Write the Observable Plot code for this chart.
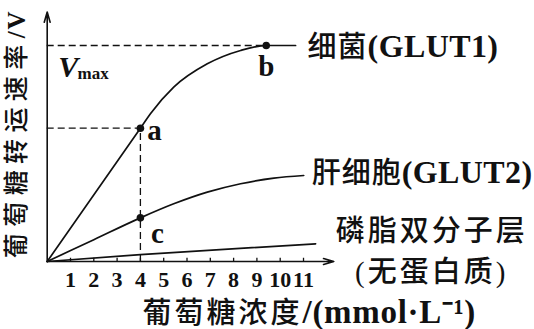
<!DOCTYPE html>
<html><head><meta charset="utf-8">
<script src="https://cdn.jsdelivr.net/npm/d3@7"></script>
<script src="https://cdn.jsdelivr.net/npm/@observablehq/plot@0.6"></script>
<style>
body{margin:0;background:#fff;}
</style></head><body><div id="chart"></div>
<script>
const glut1X = [0, 4, 4.43, 5.43, 6.87, 8.30, 9.40, 10.66];
const glut1Y = [0, 6.17, 6.84, 8.07, 9.15, 9.77, 10, 10];
const glut2X = [0, 2, 4, 5.43, 6.87, 8.30, 9.73, 11.01];
const glut2Y = [0, 1.01, 2.02, 2.67, 3.21, 3.60, 3.86, 3.98];
const lipidX = [0, 4, 11.52];
const lipidY = [0, 0.32, 0.82];
const seriesNames = ["细菌(GLUT1)", "肝细胞(GLUT2)", "磷脂双分子层\n(无蛋白质)"];
const pointNames = ["a", "b", "c"];
const pointX = [4, 9.40, 4];
const pointY = [6.17, 10, 2.02];
const vmax = 10;
const xTicks = [1, 2, 3, 4, 5, 6, 7, 8, 9, 10, 11];
const xTickLabels = ["1", "2", "3", "4", "5", "6", "7", "8", "9", "10", "11"];
const xTitle = "葡萄糖浓度/(mmol·L⁻¹)";
const yTitle = "葡萄糖转运速率/V";
const xAxisEnd = 12.3;
const yAxisEnd = 11.55;

const font = '"Liberation Serif","Noto Sans CJK SC",serif';
const toPts = (xs, ys) => xs.map((x, i) => ({x, y: ys[i]}));
const glut1 = toPts(glut1X, glut1Y);
const glut2 = toPts(glut2X, glut2Y);
const lipid = toPts(lipidX, lipidY);
const ends = [glut1, glut2, lipid].map((s, i) => ({...s[s.length - 1], name: seriesNames[i]}));
const pts = pointNames.map((n, i) => ({name: n, x: pointX[i], y: pointY[i]}));
const dash = "7,4";

const chart = Plot.plot({
  width: 534, height: 329,
  marginLeft: 46.7, marginRight: 200.7, marginTop: 11.5, marginBottom: 68,
  x: {domain: [0, xAxisEnd], axis: null},
  y: {domain: [0, yAxisEnd], axis: null},
  style: {fontFamily: font, color: "#111", background: "#fff"},
  marks: [
    Plot.ruleY([vmax], {x1: 0, x2: pointX[1], strokeDasharray: dash, strokeWidth: 1.3}),
    Plot.ruleY([pointY[0]], {x1: 0, x2: pointX[0], strokeDasharray: dash, strokeWidth: 1.3}),
    Plot.ruleX([pointX[0]], {y1: 0, y2: pointY[0], strokeDasharray: dash, strokeWidth: 1.3}),
    Plot.arrow([{x1: 0, y1: 0, x2: xAxisEnd, y2: 0}], {x1: "x1", y1: "y1", x2: "x2", y2: "y2", headLength: 10, headAngle: 32, strokeWidth: 1.6}),
    Plot.arrow([{x1: 0, y1: 0, x2: 0, y2: yAxisEnd}], {x1: "x1", y1: "y1", x2: "x2", y2: "y2", headLength: 10, headAngle: 32, strokeWidth: 1.6}),
    Plot.ruleX(xTicks, {y1: 0, y2: 0.15, strokeWidth: 1.3}),
    Plot.text(xTicks, {x: d => d, y: 0, text: (d, i) => xTickLabels[i], dy: 18, fontSize: 22, fontWeight: "bold", lineAnchor: "middle"}),
    Plot.line(glut1, {x: "x", y: "y", curve: "monotone-x", strokeWidth: 1.7}),
    Plot.line(glut2, {x: "x", y: "y", curve: "monotone-x", strokeWidth: 1.7}),
    Plot.line(lipid, {x: "x", y: "y", curve: "monotone-x", strokeWidth: 1.7}),
    Plot.dot(pts, {x: "x", y: "y", r: 3.8, fill: "#111"}),
    Plot.text(pts.slice(0, 1), {x: "x", y: "y", text: "name", dx: 14, dy: 3, fontSize: 29, fontWeight: "bold"}),
    Plot.text(pts.slice(1, 2), {x: "x", y: "y", text: "name", dx: 0, dy: 21, fontSize: 29, fontWeight: "bold"}),
    Plot.text(pts.slice(2, 3), {x: "x", y: "y", text: "name", dx: 17, dy: 16, fontSize: 29, fontWeight: "bold"}),
    Plot.text([vmax], {x: 0, y: d => d, text: ["V"], dx: 21, dy: 22, fontSize: 30, fontWeight: "bold", fontStyle: "italic"}),
    Plot.text([vmax], {x: 0, y: d => d, text: ["max"], dx: 46, dy: 28, fontSize: 17, fontWeight: "bold"}),
    Plot.text(ends.slice(0, 1), {x: "x", y: "y", text: "name", dx: 12, dy: 2, textAnchor: "start", fontSize: 29}),
    Plot.text(ends.slice(1, 2), {x: "x", y: "y", text: "name", dx: 8, dy: -2, textAnchor: "start", fontSize: 29}),
    Plot.text(ends.slice(2, 3), {x: "x", y: "y", text: "name", dx: 116, dy: 4.5, textAnchor: "middle", lineHeight: 1.43, fontSize: 29, fontWeight: 500}),
    Plot.text([xTitle], {frameAnchor: "bottom-left", text: d => d, dx: 95.3, dy: 52, lineAnchor: "middle", fontSize: 29}),
    Plot.text([yTitle], {frameAnchor: "left", text: d => d, rotate: -90, dx: -30, dy: -3, textAnchor: "middle", lineAnchor: "middle", fontSize: 25})
  ]
});

// split mixed labels into CJK and Latin runs with their own sizes
const latinRe = /[\u0000-\u024F\u207B]+|[^\u0000-\u024F\u207B]+/g;
function styleRuns(str, latin, cjk) {
  chart.querySelectorAll("text").forEach(el => {
    if (el.textContent !== str || el.querySelector("tspan")) return;
    el.textContent = "";
    for (const m of str.matchAll(latinRe)) {
      const sp = document.createElementNS("http://www.w3.org/2000/svg", "tspan");
      const isLatin = /^[\u0000-\u024F\u207B]/.test(m[0]);
      sp.setAttribute("style", isLatin ? latin : cjk);
      sp.textContent = m[0];
      el.appendChild(sp);
    }
  });
}
const seriesLatin = "font-size:32px;font-weight:bold;letter-spacing:0.4px";
const seriesCjk = "font-size:29px;font-weight:500;letter-spacing:1px";
styleRuns(seriesNames[0], seriesLatin, seriesCjk);
styleRuns(seriesNames[1], seriesLatin, seriesCjk);
styleRuns(xTitle, "font-size:33px;font-weight:bold;letter-spacing:0.7px", "font-size:29px;font-weight:500;letter-spacing:3px");
styleRuns(yTitle, "font-size:25px;font-weight:bold;letter-spacing:2px", "font-size:25px;font-weight:500;letter-spacing:6.4px");
chart.querySelectorAll("text tspan").forEach(t => {
  if (/磷脂|无蛋白/.test(t.textContent)) t.style.letterSpacing = "3px";
});
document.getElementById("chart").appendChild(chart);
</script></body></html>
